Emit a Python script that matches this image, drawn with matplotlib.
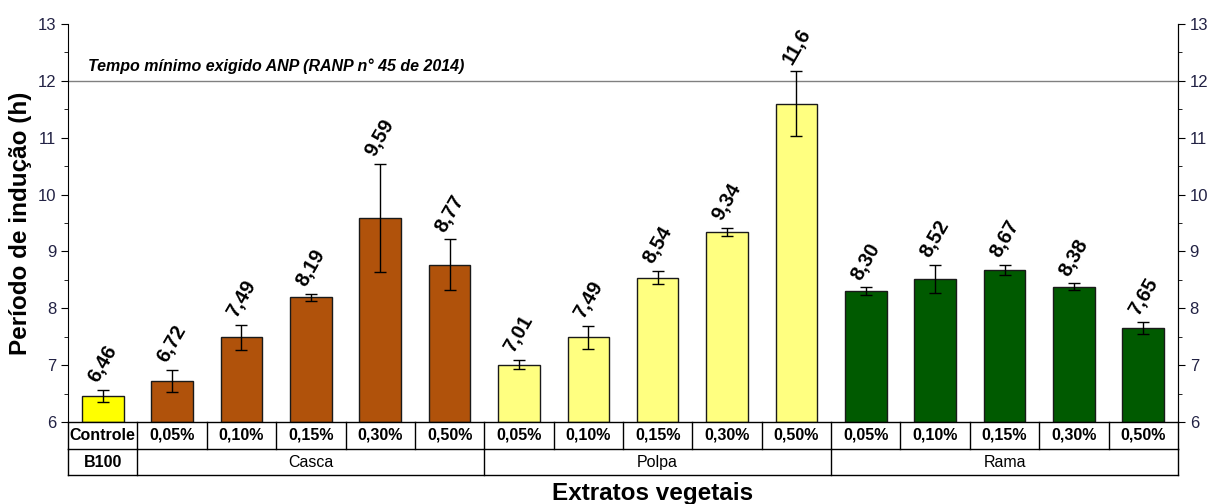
import matplotlib.pyplot as plt
import numpy as np
from matplotlib.ticker import MultipleLocator

plt.rcParams['font.family'] = ['Liberation Sans', 'DejaVu Sans']

conc = ['Controle', '0,05%', '0,10%', '0,15%', '0,30%', '0,50%',
        '0,05%', '0,10%', '0,15%', '0,30%', '0,50%',
        '0,05%', '0,10%', '0,15%', '0,30%', '0,50%']
groups = ['B100', 'Casca', 'Polpa', 'Rama']
group_sizes = [1, 5, 5, 5]
values = [6.46, 6.72, 7.49, 8.19, 9.59, 8.77,
          7.01, 7.49, 8.54, 9.34, 11.6,
          8.30, 8.52, 8.67, 8.38, 7.65]
labels = ['6,46', '6,72', '7,49', '8,19', '9,59', '8,77',
          '7,01', '7,49', '8,54', '9,34', '11,6',
          '8,30', '8,52', '8,67', '8,38', '7,65']
errors = [0.10, 0.20, 0.22, 0.06, 0.95, 0.44,
          0.08, 0.20, 0.12, 0.07, 0.57,
          0.07, 0.25, 0.09, 0.06, 0.10]
group_colors = ['#FFFF00', '#B0520B', '#FFFF80', '#005A00']

colors = []
for c, n in zip(group_colors, group_sizes):
    colors += [c] * n

fig = plt.figure(figsize=(12.11, 5.04), dpi=100)
ax = fig.add_axes([0.0562, 0.1627, 0.9165, 0.7897])
x = np.arange(len(values))
ax.bar(x, np.array(values) - 6, bottom=6, width=0.6, color=colors,
       edgecolor='#1a1a1a', linewidth=1.0, zorder=2)
ax.errorbar(x, values, yerr=errors, fmt='none', ecolor='black',
            elinewidth=1.0, capsize=4, capthick=1.0, zorder=3)
for xi, v, e, t in zip(x, values, errors, labels):
    ax.annotate(t, (xi, v + e), xytext=(0, 3), textcoords='offset points',
                ha='center', va='bottom', rotation=60, fontsize=14.5,
                fontweight='bold')

ax.axhline(12, color='#808080', linewidth=1.0, zorder=1)
ax.text(-0.21, 12.12, 'Tempo mínimo exigido ANP (RANP n° 45 de 2014)',
        fontsize=11.5, fontstyle='italic', fontweight='bold', va='bottom')

ax.set_xlim(-0.5, 15.5)
ax.set_ylim(6, 13)
ax.set_xticks([])
ax.yaxis.set_major_locator(MultipleLocator(1))
ax.yaxis.set_minor_locator(MultipleLocator(0.5))
ax.tick_params(axis='y', which='major', length=5, labelsize=12, direction='out',
               labelcolor='#222244')
ax.tick_params(axis='y', which='minor', length=3, direction='out')
ax.spines['top'].set_visible(False)
ax.spines['bottom'].set_visible(False)
ax.set_ylabel('Período de indução (h)', fontsize=17.5, fontweight='bold', labelpad=4)

ax2 = ax.twinx()
ax2.set_ylim(6, 13)
ax2.yaxis.set_major_locator(MultipleLocator(1))
ax2.yaxis.set_minor_locator(MultipleLocator(0.5))
ax2.tick_params(axis='y', which='major', length=5, labelsize=12, direction='out',
                labelcolor='#222244')
ax2.tick_params(axis='y', which='minor', length=3, direction='out')
ax2.spines['top'].set_visible(False)
ax2.spines['bottom'].set_visible(False)
ax2.spines['left'].set_visible(False)

# table below the axis
trans = ax.get_xaxis_transform()
h1 = -27 / 398
h2 = -53 / 398
lkw = dict(color='black', linewidth=1.0, transform=trans, clip_on=False)
ax.plot([-0.5, 15.5], [0, 0], **lkw)
ax.plot([-0.5, 15.5], [h1, h1], **lkw)
ax.plot([-0.5, 15.5], [h2, h2], **lkw)
for b in np.arange(-0.5, 16, 1):
    ax.plot([b, b], [0, h1], **lkw)
edges = np.concatenate([[0], np.cumsum(group_sizes)]) - 0.5
for b in edges:
    ax.plot([b, b], [h1, h2], **lkw)
for xi, t in zip(x, conc):
    ax.text(xi, h1 / 2, t, transform=trans, ha='center', va='center',
            fontsize=11.5, fontweight='bold')
for g, a, b in zip(groups, edges[:-1], edges[1:]):
    ax.text((a + b) / 2, (h1 + h2) / 2, g, transform=trans, ha='center',
            va='center', fontsize=11.5, fontweight='bold' if g == 'B100' else 'normal')

ax.text(7.92, -71 / 398, 'Extratos vegetais', transform=trans, ha='center',
        va='center', fontsize=17.5, fontweight='bold')

fig.savefig('out.png', dpi=100)
